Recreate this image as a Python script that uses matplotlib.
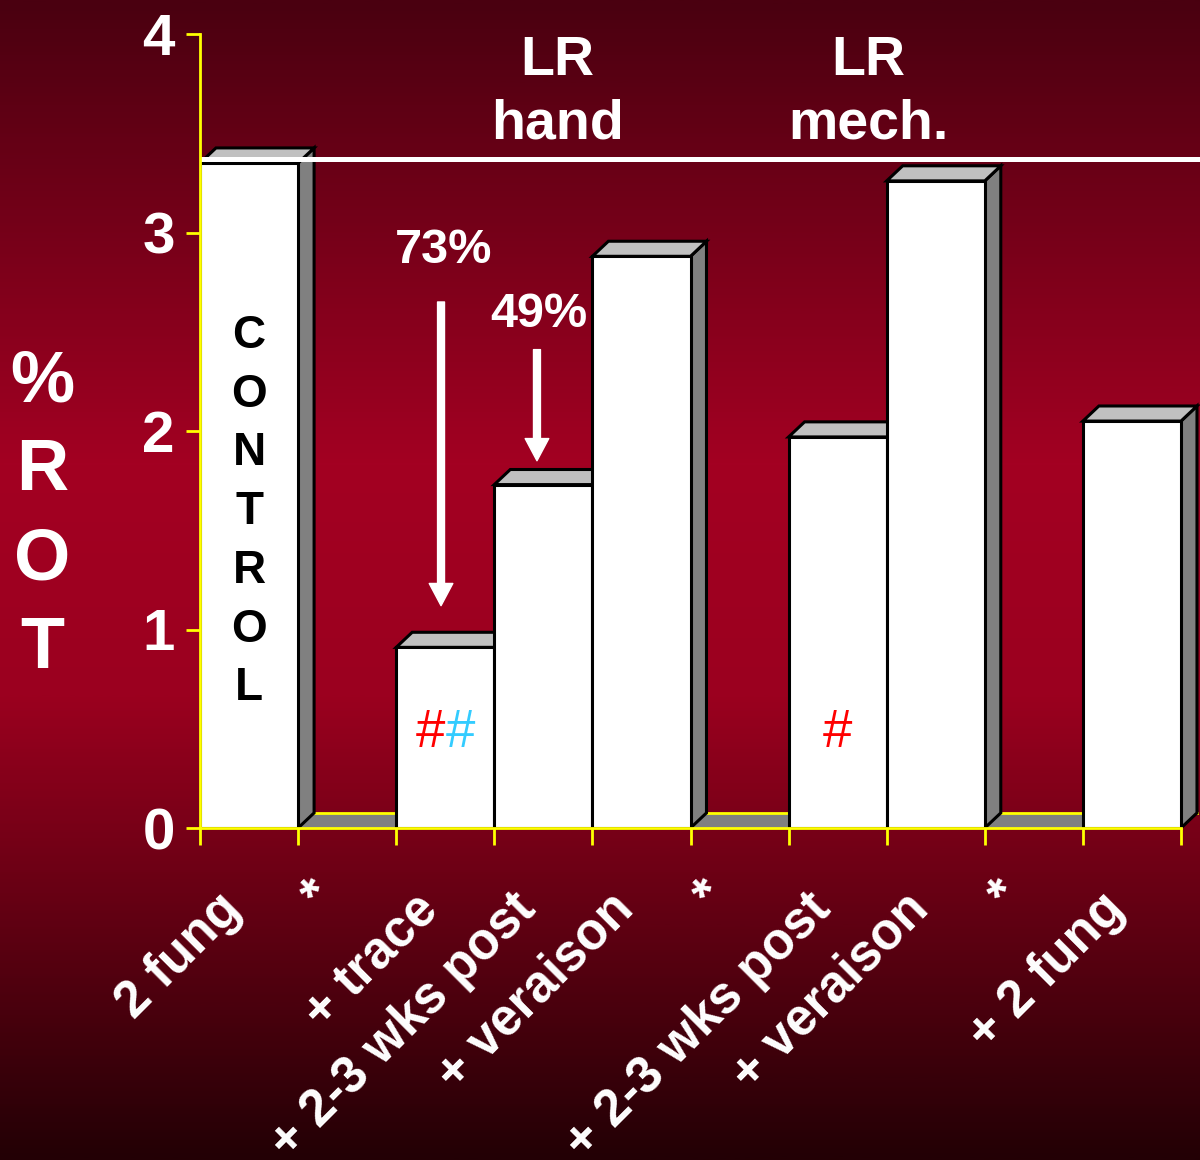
import numpy as np
import matplotlib
matplotlib.use("Agg")
import matplotlib.pyplot as plt
from matplotlib.patches import Polygon, Rectangle
from matplotlib.colors import LinearSegmentedColormap

plt.rcParams['font.family'] = ['Liberation Sans', 'DejaVu Sans']
plt.rcParams['font.weight'] = 'bold'

# % rot per treatment, empty slots (*) separate the groups
labels = ['2 fung', '*', '+ trace', '+ 2-3 wks post', '+ veraison',
          '*', '+ 2-3 wks post', '+ veraison', '*', '+ 2 fung']
rot = [3.35, np.nan, 0.91, 1.73, 2.88, np.nan, 1.97, 3.26, np.nan, 2.05]
control_level = 3.37
yticks = [0, 1, 2, 3, 4]
group_titles = [('LR', 'hand'), ('LR', 'mech.')]
reductions = ['73%', '49%']

YELLOW = '#ffff00'
SIDE = '#808080'
TOP = '#c0c0c0'
DX, DY = 0.163, 0.076   # fake 3d depth of the bars
EDGE = 2.2

fig = plt.figure(figsize=(12, 11.6), dpi=100)

# wine coloured backdrop, dark at top and bottom
bg = fig.add_axes([0, 0, 1, 1], zorder=-10)
wine = LinearSegmentedColormap.from_list(
    'wine', [(0.0, '#230005'), (0.40, '#9b001f'), (0.60, '#a30022'), (1.0, '#4a0010')])
bg.imshow(np.linspace(0, 1, 400).reshape(-1, 1), cmap=wine, origin='lower',
          aspect='auto', extent=[0, 1, 0, 1])
bg.set_axis_off()

n = len(labels)
ax = fig.add_axes([200 / 1200, 332 / 1160, 1000 / 1200, 794 / 1160])
ax.set_facecolor('none')
ax.set_xlim(0, 1000 / 98.1)
ax.set_ylim(0, 4)

# floor of the 3d chart
ax.add_patch(Polygon([(0, 0), (n, 0), (n + DX, DY), (DX, DY)],
                     fc=SIDE, ec='none', zorder=1))
ax.plot([DX, n + DX], [DY, DY], color=YELLOW, lw=2, zorder=1.5)

for i, h in enumerate(rot):
    if np.isnan(h):
        continue
    z = 2 + i * 0.1
    ax.add_patch(Polygon([(i + 1, 0), (i + 1 + DX, DY), (i + 1 + DX, h + DY), (i + 1, h)],
                         fc=SIDE, ec='black', lw=EDGE, zorder=z))
    ax.add_patch(Polygon([(i, h), (i + 1, h), (i + 1 + DX, h + DY), (i + DX, h + DY)],
                         fc=TOP, ec='black', lw=EDGE, zorder=z))
    ax.add_patch(Rectangle((i, 0), 1, h, fc='white', ec='black', lw=EDGE, zorder=z))

# control level line across the chart
ax.plot([0, ax.get_xlim()[1]], [control_level, control_level],
        color='white', lw=3.6, solid_capstyle='butt', zorder=10)

# axes styling
for s in ['top', 'right']:
    ax.spines[s].set_visible(False)
ax.spines['left'].set_color(YELLOW)
ax.spines['left'].set_linewidth(2)
ax.spines['left'].set_bounds(0, 4)
ax.spines['bottom'].set_color(YELLOW)
ax.spines['bottom'].set_linewidth(2)
ax.spines['bottom'].set_bounds(0, n)
ax.spines['left'].set_zorder(20)
ax.spines['bottom'].set_zorder(20)

ax.set_yticks(yticks)
ax.set_yticklabels([str(t) for t in yticks])
ax.tick_params(axis='y', length=10, width=2, color=YELLOW, labelcolor='white',
               labelsize=42, pad=8)
ax.set_xticks(range(n + 1))
ax.set_xticklabels([])
ax.tick_params(axis='x', length=12, width=2, color=YELLOW)

# rotated category labels
for i, lab in enumerate(labels):
    if lab == '*':
        ax.text(i + 0.5 - 0.40, -0.055, lab, transform=ax.get_xaxis_transform(),
                rotation=45, ha='right', va='top', rotation_mode='anchor',
                color='white', fontsize=37, clip_on=False)
    else:
        ax.text(i + 0.5 - 0.33, -0.071, lab, transform=ax.get_xaxis_transform(),
                rotation=45, ha='right', va='top', rotation_mode='anchor',
                color='white', fontsize=37, clip_on=False)

# vertical labels
for k, ch in enumerate('CONTROL'):
    ax.text(0.5, 2.418 - k * 0.2957, ch, ha='center', va='baseline',
            color='black', fontsize=33, zorder=15)
for k, ch in enumerate('%ROT'):
    fig.text(42 / 1200, 1 - (401 + k * 89) / 1160, ch, ha='center', va='baseline',
             color='white', fontsize=52)

# group titles
for (l1, l2), x in zip(group_titles, [3.64, 6.81]):
    ax.text(x, 3.793, l1, ha='center', va='baseline', color='white', fontsize=40)
    ax.text(x, 3.476, l2, ha='center', va='baseline', color='white', fontsize=40)

# reduction arrows
ax.text(2.487, 2.846, reductions[0], ha='center', va='baseline', color='white', fontsize=35)
ax.text(3.456, 2.524, reductions[1], ha='center', va='baseline', color='white', fontsize=35)
arrow = dict(facecolor='white', edgecolor='white', width=5, headwidth=17,
             headlength=16, shrink=0)
ax.annotate('', xy=(2.457, 1.12), xytext=(2.457, 2.65), arrowprops=arrow, zorder=12)
ax.annotate('', xy=(3.435, 1.85), xytext=(3.435, 2.41), arrowprops=arrow, zorder=12)

# significance marks
ax.text(2.5, 0.41, '#', ha='right', va='baseline', color='#ff0000',
        fontsize=38, fontweight='normal', zorder=15)
ax.text(2.5, 0.41, '#', ha='left', va='baseline', color='#33ccff',
        fontsize=38, fontweight='normal', zorder=15)
ax.text(6.5, 0.41, '#', ha='center', va='baseline', color='#ff0000',
        fontsize=38, fontweight='normal', zorder=15)

fig.savefig('out.png', dpi=100)
